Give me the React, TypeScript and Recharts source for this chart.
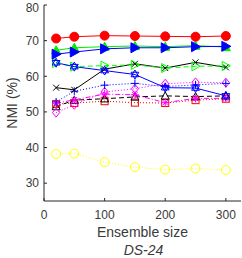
import React from 'react';
import { LineChart, Line, XAxis, YAxis } from 'recharts';

const ensembleSizes = [20, 50, 100, 150, 200, 250, 300];
const xTicks = [0, 100, 200, 300];
const yTicks = [30, 40, 50, 60, 70, 80];

const redCircle = [70.6, 71.1, 71.4, 71.3, 71.2, 71.1, 71.3];
const greenTriangle = [67.3, 68.0, 68.3, 68.5, 68.3, 68.6, 68.2];
const blueTriangle = [66.2, 66.8, 67.7, 68.0, 68.0, 68.3, 68.4];
const blueStar = [63.8, 62.7, 61.6, 60.5, 56.8, 56.7, 54.5];
const greenOpen = [63.7, 62.7, 63.0, 63.2, 62.3, 62.8, 62.9];
const blackCross = [56.8, 56.2, 62.0, 63.5, 62.3, 63.9, 62.5];
const bluePlus = [52.8, 55.8, 57.5, 58.0, 57.1, 57.6, 58.0];
const magentaDiamond = [49.8, 52.0, 55.6, 56.5, 57.9, 58.3, 58.2];
const blackOpenTriangle = [51.5, 53.3, 53.7, 54.2, 54.5, 54.3, 54.5];
const redSquare = [52.2, 52.5, 53.0, 52.6, 52.5, 53.3, 53.7];
const magentaAsterisk = [52.4, 53.4, 55.0, 54.8, 52.6, 53.8, 53.8];
const yellowCircle = [38.2, 38.3, 35.9, 34.5, 33.8, 34.1, 33.7];

const seriesValues: Record<string, number[]> = {
  redCircle, greenTriangle, blueTriangle, blueStar, greenOpen, blackCross,
  bluePlus, magentaDiamond, blackOpenTriangle, redSquare, magentaAsterisk, yellowCircle,
};

const data = ensembleSizes.map((size, i) => {
  const row: Record<string, number> = { size };
  Object.keys(seriesValues).forEach((k) => { row[k] = seriesValues[k][i]; });
  return row;
});

type MarkerKind = 'circle' | 'triUp' | 'triRight' | 'hexagram' | 'x' | 'plus' | 'diamond' | 'square' | 'asterisk';

const Marker = ({ cx, cy, kind, color, filled, size }: { cx: number; cy: number; kind: MarkerKind; color: string; filled: boolean; size: number }) => {
  const s = size;
  const fill = filled ? color : 'none';
  const common = { stroke: color, strokeWidth: 1, fill };
  switch (kind) {
    case 'circle':
      return <circle cx={cx} cy={cy} r={s} {...common} />;
    case 'triUp':
      return <polygon points={`${cx},${cy - s} ${cx - s},${cy + s * 0.8} ${cx + s},${cy + s * 0.8}`} {...common} />;
    case 'triRight':
      return <polygon points={`${cx + s},${cy} ${cx - s * 0.8},${cy - s} ${cx - s * 0.8},${cy + s}`} {...common} />;
    case 'hexagram': {
      const a = `${cx},${cy - s} ${cx - s * 0.87},${cy + s * 0.5} ${cx + s * 0.87},${cy + s * 0.5}`;
      const b = `${cx},${cy + s} ${cx - s * 0.87},${cy - s * 0.5} ${cx + s * 0.87},${cy - s * 0.5}`;
      return (
        <g>
          <polygon points={a} {...common} />
          <polygon points={b} {...common} />
        </g>
      );
    }
    case 'x':
      return (
        <g stroke={color} strokeWidth={1}>
          <line x1={cx - s} y1={cy - s} x2={cx + s} y2={cy + s} />
          <line x1={cx - s} y1={cy + s} x2={cx + s} y2={cy - s} />
        </g>
      );
    case 'plus':
      return (
        <g stroke={color} strokeWidth={1}>
          <line x1={cx - s} y1={cy} x2={cx + s} y2={cy} />
          <line x1={cx} y1={cy - s} x2={cx} y2={cy + s} />
        </g>
      );
    case 'asterisk':
      return (
        <g stroke={color} strokeWidth={1}>
          <line x1={cx - s} y1={cy} x2={cx + s} y2={cy} />
          <line x1={cx} y1={cy - s} x2={cx} y2={cy + s} />
          <line x1={cx - s * 0.7} y1={cy - s * 0.7} x2={cx + s * 0.7} y2={cy + s * 0.7} />
          <line x1={cx - s * 0.7} y1={cy + s * 0.7} x2={cx + s * 0.7} y2={cy - s * 0.7} />
        </g>
      );
    case 'diamond':
      return <polygon points={`${cx},${cy - s} ${cx + s * 0.8},${cy} ${cx},${cy + s} ${cx - s * 0.8},${cy}`} {...common} />;
    case 'square':
      return <rect x={cx - s} y={cy - s} width={s * 2} height={s * 2} {...common} />;
    default:
      return null;
  }
};

const seriesStyles: { key: string; color: string; kind: MarkerKind; filled: boolean; size: number; dash?: string }[] = [
  { key: 'yellowCircle', color: '#ffff00', kind: 'circle', filled: false, size: 4.5, dash: '1 2' },
  { key: 'redSquare', color: '#ff0000', kind: 'square', filled: false, size: 3.5, dash: '1 2' },
  { key: 'blackOpenTriangle', color: '#000000', kind: 'triUp', filled: false, size: 4, dash: '5 3' },
  { key: 'magentaAsterisk', color: '#ff00ff', kind: 'asterisk', filled: false, size: 4, dash: '5 2 1 2' },
  { key: 'magentaDiamond', color: '#ff00ff', kind: 'diamond', filled: false, size: 4.5, dash: '1 2' },
  { key: 'bluePlus', color: '#0000ff', kind: 'plus', filled: false, size: 4, dash: '1 2' },
  { key: 'blackCross', color: '#000000', kind: 'x', filled: false, size: 3 },
  { key: 'greenOpen', color: '#00ff00', kind: 'triRight', filled: false, size: 4.5, dash: '5 3' },
  { key: 'blueStar', color: '#0000ff', kind: 'hexagram', filled: false, size: 4.5 },
  { key: 'greenTriangle', color: '#00ee00', kind: 'triUp', filled: true, size: 4.5 },
  { key: 'blueTriangle', color: '#0000ff', kind: 'triRight', filled: true, size: 5 },
  { key: 'redCircle', color: '#ff0000', kind: 'circle', filled: true, size: 4.5 },
];

const axisColor = '#262626';
const textColor = '#3a3a3a';
const font = '"Liberation Sans", Arial, sans-serif';

export default function App() {
  return (
    <div style={{ position: 'absolute', left: 0, top: 0, width: 242, height: 258, background: '#fff', fontFamily: font }}>
      <LineChart width={242} height={258} data={data} margin={{ top: 5, right: 0, bottom: 0, left: 0 }}>
        <XAxis
          dataKey="size"
          type="number"
          domain={[0, 325]}
          ticks={xTicks}
          tickSize={-3}
          tickMargin={12}
          height={57}
          stroke={axisColor}
          tick={{ fill: textColor, fontSize: 12, fontFamily: font }}
          label={{
            content: ({ viewBox }: any) => {
              const cx = viewBox.x + viewBox.width / 2;
              return (
                <g fontFamily={font} fill={textColor}>
                  <text x={cx} y={viewBox.y + 36} textAnchor="middle" fontSize={14}>Ensemble size</text>
                  <text x={cx + 1} y={viewBox.y + 54} textAnchor="middle" fontSize={14} fontStyle="italic">DS-24</text>
                </g>
              );
            },
          }}
        />
        <YAxis
          yAxisId="left"
          type="number"
          domain={[25, 80]}
          ticks={yTicks}
          tickSize={-3}
          tickMargin={8}
          width={44}
          stroke={axisColor}
          tick={{ fill: textColor, fontSize: 12, fontFamily: font }}
          label={{
            content: ({ viewBox }: any) => {
              const cy = viewBox.y + viewBox.height / 2;
              return (
                <text x={17} y={cy} transform={`rotate(-90 17 ${cy})`} textAnchor="middle" fontSize={14} fontFamily={font} fill={textColor}>NMI (%)</text>
              );
            },
          }}
        />
        <YAxis
          yAxisId="right"
          orientation="right"
          type="number"
          domain={[25, 80]}
          ticks={yTicks}
          tickSize={-3}
          width={1}
          axisLine={false}
          stroke={axisColor}
          tick={false}
          tickLine={{ stroke: axisColor }}
        />
        {seriesStyles.map((s) => (
          <Line
            key={s.key}
            yAxisId="left"
            type="linear"
            dataKey={s.key}
            stroke={s.color}
            strokeWidth={1}
            strokeDasharray={s.dash}
            isAnimationActive={false}
            dot={(p: any) => (
              <Marker key={`${s.key}-${p.index}`} cx={p.cx} cy={p.cy} kind={s.kind} color={s.color} filled={s.filled} size={s.size} />
            )}
            activeDot={false}
          />
        ))}
      </LineChart>
    </div>
  );
}
